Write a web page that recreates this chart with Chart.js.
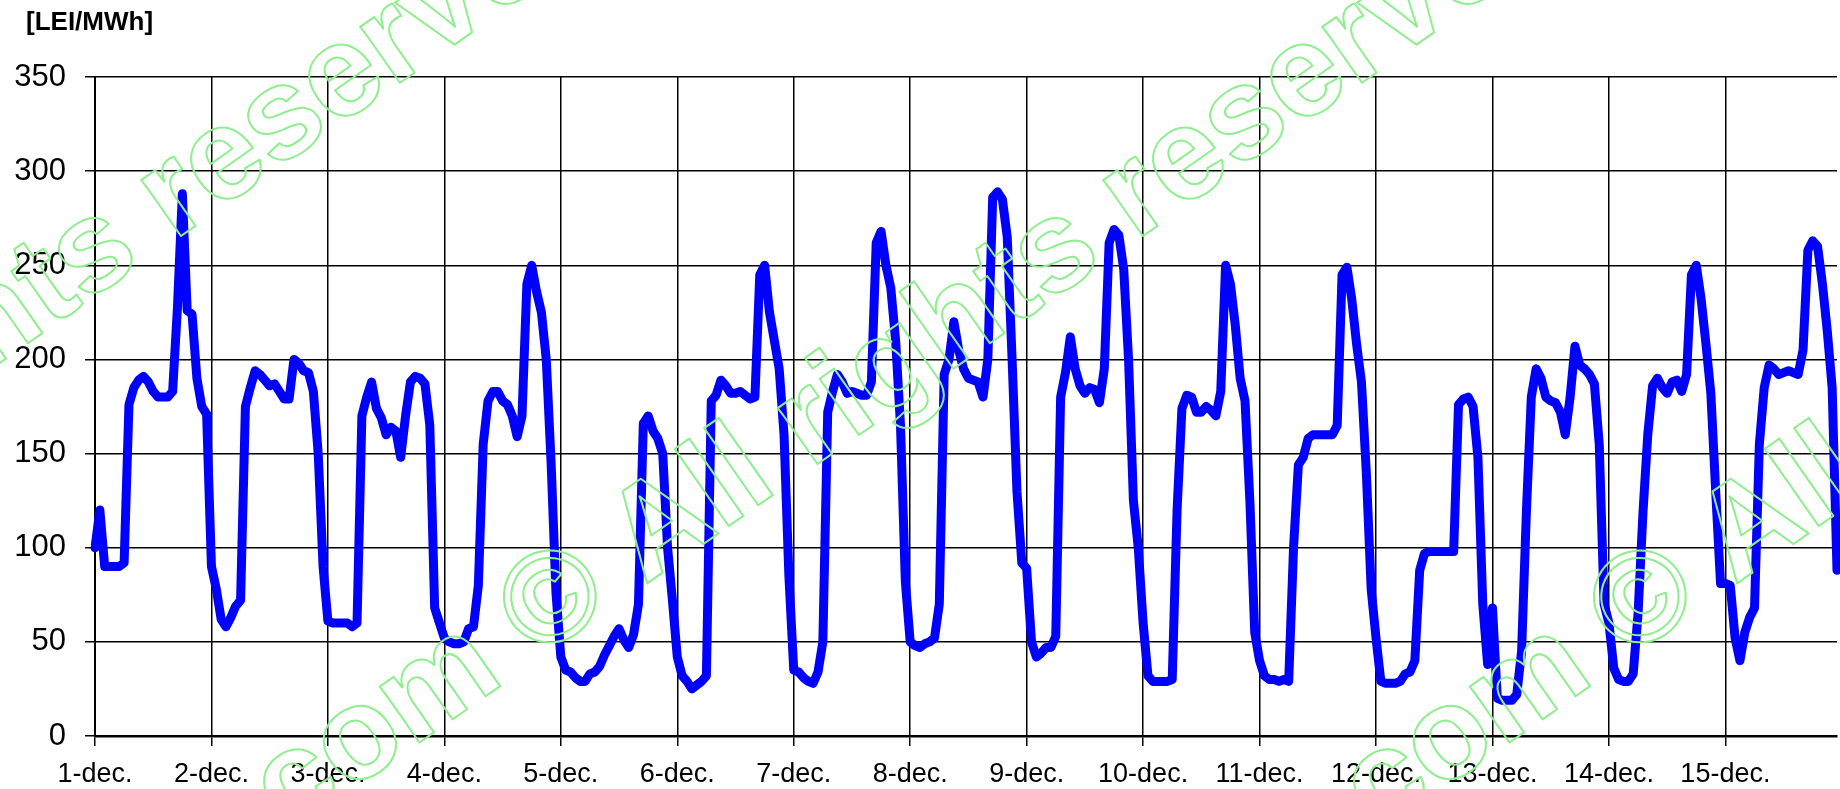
<!DOCTYPE html>
<html>
<head>
<meta charset="utf-8">
<script src="https://cdn.jsdelivr.net/npm/chart.js@4/dist/chart.umd.min.js"></script>
<style>
  html, body { margin: 0; padding: 0; background: #fff; }
  #wrap { position: relative; width: 1840px; height: 789px; }
</style>
</head>
<body>
<div id="wrap"><canvas id="priceChart"></canvas></div>
<script>
// Hourly prices, LEI/MWh, one array per day
const days = ['1-dec.', '2-dec.', '3-dec.', '4-dec.', '5-dec.', '6-dec.', '7-dec.', '8-dec.',
    '9-dec.', '10-dec.', '11-dec.', '12-dec.', '13-dec.', '14-dec.', '15-dec.'];

const dec1 = [100, 120, 90, 90, 90, 90, 92, 176, 185, 189, 191, 188, 183, 180, 180, 180, 183, 228, 288, 226, 224, 190, 175, 171];
const dec2 = [90, 78, 62, 58, 63, 69, 72, 175, 185, 194, 192, 189, 186, 187, 183, 179, 179, 200, 198, 194, 193, 183, 150, 90];
const dec3 = [61, 60, 60, 60, 60, 58, 60, 170, 180, 188, 174, 169, 160, 164, 162, 148, 170, 188, 191, 190, 187, 165, 68, 60];
const dec4 = [52, 50, 49, 49, 50, 57, 58, 80, 155, 178, 183, 183, 178, 176, 170, 159, 170, 240, 250, 236, 225, 200, 145, 76];
const dec5 = [42, 35, 34, 31, 29, 29, 33, 34, 37, 43, 48, 53, 57, 51, 47, 54, 70, 166, 170, 162, 158, 150, 100, 72];
const dec6 = [42, 32, 29, 25, 27, 29, 32, 178, 181, 189, 186, 182, 182, 183, 181, 179, 180, 245, 250, 225, 210, 195, 160, 85];
const dec7 = [35, 34, 31, 29, 28, 34, 50, 172, 183, 192, 188, 182, 183, 182, 181, 181, 188, 262, 268, 250, 238, 210, 165, 82];
const dec8 = [50, 48, 47, 49, 50, 52, 70, 192, 200, 220, 205, 195, 190, 189, 188, 180, 200, 286, 289, 285, 265, 200, 130, 92];
const dec9 = [89, 50, 42, 44, 47, 47, 53, 180, 193, 212, 195, 186, 182, 185, 184, 177, 195, 262, 269, 266, 248, 200, 125, 100];
const dec10 = [60, 32, 29, 29, 29, 29, 30, 120, 174, 181, 180, 172, 172, 175, 173, 170, 183, 250, 240, 218, 190, 178, 125, 55];
const dec11 = [40, 32, 30, 30, 29, 30, 29, 100, 144, 148, 158, 160, 160, 160, 160, 160, 165, 245, 249, 232, 208, 188, 140, 78];
const dec12 = [52, 29, 28, 28, 28, 29, 33, 34, 40, 88, 97, 98, 98, 98, 98, 98, 98, 176, 179, 180, 175, 148, 70, 38];
const dec13 = [68, 20, 19, 19, 19, 22, 45, 120, 180, 195, 190, 180, 178, 177, 172, 160, 180, 207, 197, 195, 192, 187, 155, 70];
const dec14 = [60, 36, 30, 29, 29, 33, 65, 118, 160, 186, 190, 185, 182, 188, 189, 183, 192, 245, 250, 232, 208, 182, 130, 81];
const dec15 = [81, 80, 52, 40, 55, 63, 68, 155, 185, 197, 195, 192, 193, 194, 193, 192, 205, 258, 263, 260, 240, 215, 185, 88];

const yMin = 0, yMax = 350, yStep = 50;
const unitLabel = '[LEI/MWh]';
const watermark = ['.com ', '\u00a9', ' All rights reserved'];

const prices = [dec1, dec2, dec3, dec4, dec5, dec6, dec7, dec8, dec9, dec10,
    dec11, dec12, dec13, dec14, dec15].flat();
// one category per hour, only the first hour of each day carries the date
const labels = days.flatMap(d => Array.from({ length: 24 }, (_, h) => h === 0 ? d : ''));

const FONT = "'Liberation Sans', Arial, sans-serif";

// unit text in the top-left corner
const unitPlugin = {
    id: 'unitLabel',
    afterDraw(chart) {
        const ctx = chart.ctx;
        ctx.save();
        ctx.font = 'bold 26px ' + FONT;
        ctx.fillStyle = '#000';
        ctx.textAlign = 'left';
        ctx.textBaseline = 'middle';
        ctx.fillText(unitLabel, 26, 23);
        ctx.restore();
    }
};

// green outlined watermark running diagonally over the picture
const watermarkPlugin = {
    id: 'watermark',
    afterDraw(chart) {
        const ctx = chart.ctx;
        const centres = [[-407, 604], [555, 604], [1645, 604]];
        ctx.save();
        ctx.font = 'bold 130px ' + FONT;
        ctx.strokeStyle = '#90ee90';
        ctx.lineWidth = 2;
        ctx.lineJoin = 'round';
        ctx.textBaseline = 'middle';
        centres.forEach(([cx, cy]) => {
            ctx.save();
            ctx.translate(cx, cy);
            ctx.rotate(-35 * Math.PI / 180);
            const wc = ctx.measureText(watermark[1]).width;
            ctx.textAlign = 'right';
            ctx.strokeText(watermark[0], -wc / 2, 0);
            ctx.textAlign = 'center';
            ctx.strokeText(watermark[1], 0, 0);
            ctx.textAlign = 'left';
            ctx.strokeText(watermark[2], wc / 2, 0);
            ctx.restore();
        });
        ctx.restore();
    }
};

const ctx = document.getElementById('priceChart').getContext('2d');
window.priceChart = new Chart(ctx, {
    type: 'line',
    data: {
        labels: labels,
        datasets: [{
            label: 'Price',
            data: prices,
            borderColor: '#0000ff',
            borderWidth: 9,
            borderJoinStyle: 'round',
            borderCapStyle: 'round',
            pointRadius: 0,
            tension: 0,
            fill: false
        }]
    },
    options: {
        responsive: true,
        maintainAspectRatio: false,
        animation: false,
        layout: { padding: { top: 77, right: 3, left: 0, bottom: 0 } },
        plugins: {
            legend: { display: false },
            tooltip: { enabled: false }
        },
        scales: {
            x: {
                type: 'category',
                offset: false,
                border: { color: '#000', width: 2.5 },
                grid: { color: '#000', lineWidth: 1.5, tickLength: 10 },
                ticks: {
                    autoSkip: false,
                    maxRotation: 0,
                    minRotation: 0,
                    padding: 12,
                    color: '#000',
                    font: { family: FONT, size: 27 },
                    callback: function (value, index) {
                        return labels[index] || null;  // null also hides the grid line
                    }
                },
                afterFit: function (scale) {
                    scale.height = 53;
                }
            },
            y: {
                min: yMin,
                max: yMax,
                border: { color: '#000', width: 2 },
                grid: { color: '#000', lineWidth: 1.5, tickLength: 10 },
                ticks: {
                    stepSize: yStep,
                    padding: 19,
                    color: '#000',
                    font: { family: FONT, size: 31 }
                },
                afterFit: function (scale) {
                    scale.width = 95;
                }
            }
        }
    },
    plugins: [unitPlugin, watermarkPlugin]
});
</script>
</body>
</html>
